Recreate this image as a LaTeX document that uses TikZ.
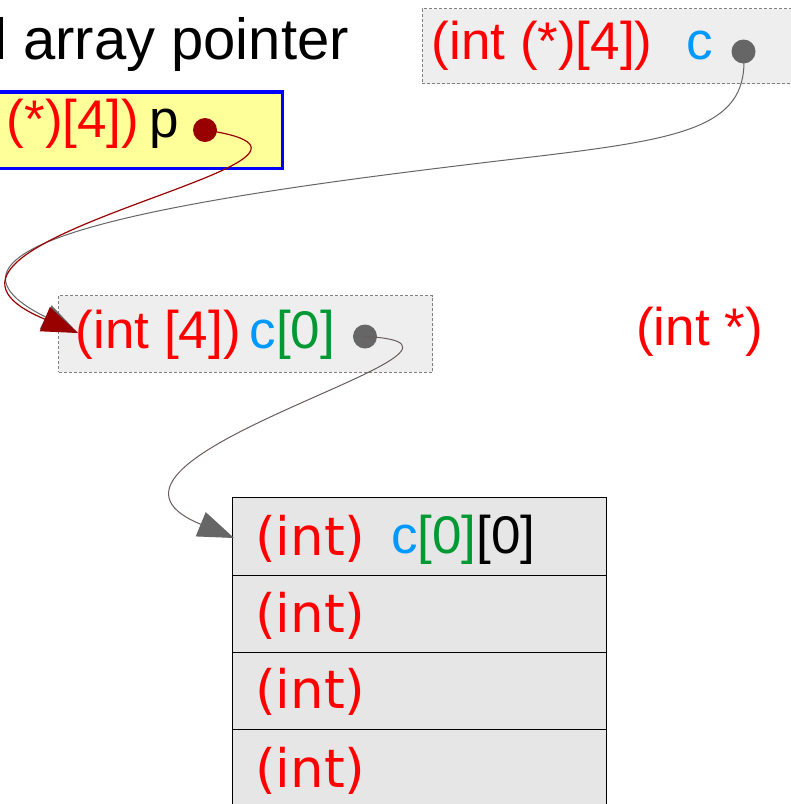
\documentclass[tikz,border=0pt]{standalone}
\usepackage{fontspec}
\setmainfont{Liberation Sans}
\newfontfamily\djv{DejaVu Sans}
\usetikzlibrary{arrows.meta}
\definecolor{cred}{HTML}{FF0000}
\definecolor{cblue}{HTML}{0099FF}
\definecolor{cgreen}{HTML}{009933}
\definecolor{dkred}{HTML}{990000}
\definecolor{dotgray}{HTML}{666666}
\definecolor{linegray}{HTML}{6A5C5C}
\definecolor{boxfill}{HTML}{EEEEEE}
\definecolor{tabfill}{HTML}{E6E6E6}
\definecolor{yel}{HTML}{FFFF99}
\definecolor{dashgray}{HTML}{808080}
\tikzset{
  txt/.style={anchor=base west, inner sep=0pt, font=\fontsize{53}{62}\selectfont},
  dtxt/.style={anchor=base west, inner sep=0pt, font=\djv\fontsize{53}{62}\selectfont},
  varbox/.style={anchor=north west, draw=dashgray, fill=boxfill, line width=0.9pt,
    dash pattern=on 3pt off 2pt, inner sep=0pt},
  cell/.style={anchor=north west, draw=black, fill=tabfill, line width=1.2pt,
    minimum width=374pt, minimum height=77pt, inner sep=0pt},
  dotnode/.style={circle, inner sep=0pt, minimum size=24pt},
  bigtip/.style={-{Triangle[length=36pt,width=26pt,#1]}},
  bigtip/.default={},
}
\begin{document}
\begin{tikzpicture}[x=1pt,y=-1pt]
\useasboundingbox (0,0) rectangle (791,804);
\clip (0,0) rectangle (791,804);
\fill[white] (0,0) rectangle (791,804);

% title
\node[txt, font=\fontsize{58}{70}\selectfont] (title) at (-6,59) {l array pointer};

% pointer p (yellow box)
\node[anchor=north west, draw=blue, fill=yel, line width=3.2pt, inner sep=0pt,
      minimum width=301pt, minimum height=76.5pt] (pbox) at (-20,90.3) {};
\node[txt] (ptxt) at (6.6,137) {{\color{cred}(*)[4])}\hspace{10pt}p};
\node[dotnode, fill=dkred] (pdot) at (205,130) {};

% c box
\node[varbox, minimum width=380pt, minimum height=75pt] (cbox) at (421.5,8.3) {};
\node[txt] (ctype) at (431.5,59) {\color{cred}(int (*)[4])};
\node[txt] (cname) at (686,59) {\color{cblue}c};
\node[dotnode, fill=dotgray] (cdot) at (743.5,51.5) {};

% c[0] box
\node[varbox, minimum width=374pt, minimum height=76.5pt] (c0box) at (58.3,295.3) {};
\node[txt] (c0txt) at (75.6,348) {{\color{cred}(int [4])}\hspace{9pt}{\color{cblue}c}{\color{cgreen}[0]}};
\node[dotnode, fill=dotgray] (c0dot) at (365,336.5) {};

% (int *)
\node[txt] (intptr) at (636,345) {\color{cred}(int *)};

% table
\node[cell, minimum height=78pt] (r1) at (231.5,497) {};
\node[cell] (r2) at (231.5,575) {};
\node[cell] (r3) at (231.5,652) {};
\node[cell] (r4) at (231.5,729) {};
\node[dtxt] (t1) at (255,555) {\color{cred}(int)};
\node[txt] (t1b) at (391,553) {{\color{cblue}c}{\color{cgreen}[0]}[0]};
\node[dtxt] (t2) at (255,632) {\color{cred}(int)};
\node[dtxt] (t3) at (255,708) {\color{cred}(int)};
\node[dtxt] (t4) at (255,787) {\color{cred}(int)};

% arrow targets
\coordinate (c0in) at (78,333);
\coordinate (c00in) at (234,538);

% connectors
\draw[line width=1pt, draw=dotgray, bigtip]
   (cdot.center) .. controls (750,125) and (690,138) .. (540,156)
   .. controls (250,190) and (-118,236) .. (c0in);
\draw[line width=1.2pt, draw=dkred, bigtip]
   (pdot.center) .. controls (410,160) and (-145,240) .. (c0in);
\draw[line width=1pt, draw=linegray, bigtip={color=dotgray}]
   (c0dot.center) .. controls (540,345) and (40,458) .. (c00in);
\end{tikzpicture}
\end{document}
